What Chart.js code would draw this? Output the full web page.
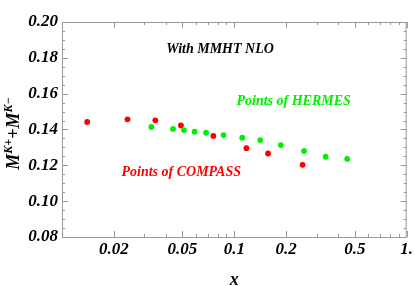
<!DOCTYPE html>
<html>
<head>
<meta charset="utf-8">
<script src="https://cdn.jsdelivr.net/npm/chart.js@4/dist/chart.umd.min.js"></script>
<style>
  body { margin: 0; background: #fff; }
</style>
</head>
<body>
<canvas id="Chart" width="415" height="286"></canvas>
<script>
// values
const compassX = [0.0140, 0.0240, 0.0348, 0.0490, 0.0756, 0.1176, 0.157, 0.249];
const compassY = [0.1442, 0.1457, 0.1451, 0.1423, 0.1364, 0.1296, 0.1266, 0.1203];
const hermesX = [0.0330, 0.0441, 0.0510, 0.0588, 0.0686, 0.0866, 0.1112, 0.1413, 0.1862, 0.2539, 0.339, 0.452];
const hermesY = [0.1414, 0.1403, 0.1397, 0.1388, 0.1382, 0.1369, 0.1354, 0.1341, 0.1313, 0.1280, 0.1248, 0.1236];

const xTicks = [0.02, 0.05, 0.1, 0.2, 0.5, 1];
const xTickLabels = ['0.02', '0.05', '0.1', '0.2', '0.5', '1.'];
const xMinor = [0.03, 0.04, 0.06, 0.07, 0.08, 0.09, 0.3, 0.4, 0.6, 0.7, 0.8, 0.9];
const yTicks = [0.08, 0.10, 0.12, 0.14, 0.16, 0.18, 0.20];
const yTickLabels = ['0.08', '0.10', '0.12', '0.14', '0.16', '0.18', '0.20'];

const tickFont = { family: 'Liberation Serif', size: 17, weight: 'bold', style: 'italic' };

function toPoints(xs, ys){
  const pts = [];
  for(let i = 0; i < xs.length; i++){
    pts.push({x: xs[i], y: ys[i]});
  }
  return pts;
}

// frame, inward ticks, labels inside the plot and the y title
const framePlugin = {
  id: 'frame',
  afterDraw(chart){
    const ctx = chart.ctx;
    const a = chart.chartArea;
    const xs = chart.scales.x;
    const ys = chart.scales.y;
    ctx.save();
    ctx.strokeStyle = '#999';
    ctx.lineWidth = 1;
    ctx.strokeRect(a.left + 0.5, a.top + 0.5, a.right - a.left - 1, a.bottom - a.top);

    ctx.beginPath();
    xTicks.concat(xMinor).forEach(v => {
      const len = xTicks.includes(v) ? 6 : 3;
      const px = Math.round(xs.getPixelForValue(v)) + 0.5;
      ctx.moveTo(px, a.bottom); ctx.lineTo(px, a.bottom - len);
      ctx.moveTo(px, a.top); ctx.lineTo(px, a.top + len);
    });
    for(let v = 0.08; v <= 0.2001; v += 0.005){
      const major = Math.abs(Math.round(v / 0.02) * 0.02 - v) < 1e-6;
      const len = major ? 6 : 3;
      const py = Math.round(ys.getPixelForValue(v)) + 0.5;
      ctx.moveTo(a.left, py); ctx.lineTo(a.left + len, py);
      ctx.moveTo(a.right, py); ctx.lineTo(a.right - len, py);
    }
    ctx.stroke();

    ctx.font = 'italic bold 14px "Liberation Serif"';
    ctx.textAlign = 'center';
    ctx.textBaseline = 'middle';
    ctx.fillStyle = '#000';
    ctx.fillText('With MMHT NLO', xs.getPixelForValue(0.0826), ys.getPixelForValue(0.1847));
    ctx.fillStyle = '#00f000';
    ctx.fillText('Points of HERMES', xs.getPixelForValue(0.221), ys.getPixelForValue(0.1556));
    ctx.fillStyle = '#ff0000';
    ctx.fillText('Points of COMPASS', xs.getPixelForValue(0.0492), ys.getPixelForValue(0.1158));

    // y title: M^{K+}+M^{K-}
    const big = 'italic bold 18px "Liberation Serif"';
    const small = 'italic bold 12px "Liberation Serif"';
    const parts = [
      {t: 'M', f: big, dy: 0},
      {t: 'K+', f: small, dy: -7},
      {t: '+', f: big, dy: 0},
      {t: 'M', f: big, dy: 0},
      {t: 'K\u2212', f: small, dy: -7}
    ];
    let total = 0;
    parts.forEach(p => { ctx.font = p.f; p.w = ctx.measureText(p.t).width; total += p.w; });
    ctx.translate(19, (a.top + a.bottom) / 2 + 4);
    ctx.rotate(-Math.PI / 2);
    ctx.fillStyle = '#000';
    ctx.textAlign = 'left';
    ctx.textBaseline = 'alphabetic';
    let cx = -total / 2;
    parts.forEach(p => {
      ctx.font = p.f;
      ctx.fillText(p.t, cx, p.dy);
      cx += p.w;
    });
    ctx.restore();
  }
};

const ctx = document.getElementById('Chart').getContext('2d');
const myChart = new Chart(ctx, {
  type: 'scatter',
  data: {
    datasets: [{
      label: 'HERMES',
      data: toPoints(hermesX, hermesY),
      backgroundColor: '#00f000',
      borderWidth: 0,
      pointRadius: 2.9
    }, {
      label: 'COMPASS',
      data: toPoints(compassX, compassY),
      backgroundColor: '#ff0000',
      borderWidth: 0,
      pointRadius: 2.9
    }]
  },
  options: {
    responsive: false,
    animation: false,
    layout: { padding: { top: 22, right: 7, left: 0, bottom: 0 } },
    plugins: {
      legend: { display: false },
      tooltip: { enabled: false }
    },
    scales: {
      x: {
        type: 'logarithmic',
        min: 0.01,
        max: 1,
        grid: { display: false, drawTicks: false },
        border: { display: false },
        afterBuildTicks: s => { s.ticks = xTicks.map(v => ({value: v})); },
        afterFit: s => { s.height = 49; },
        ticks: {
          autoSkip: false,
          maxRotation: 0,
          padding: 2,
          color: '#000',
          font: tickFont,
          callback: (v, i) => xTickLabels[i]
        },
        title: {
          display: true,
          text: 'x',
          color: '#000',
          font: { family: 'Liberation Serif', size: 18, weight: 'bold', style: 'italic', lineHeight: 1 },
          padding: { top: 0, bottom: -3 }
        }
      },
      y: {
        min: 0.08,
        max: 0.20,
        grid: { display: false, drawTicks: false },
        border: { display: false },
        afterBuildTicks: s => { s.ticks = yTicks.map(v => ({value: v})); },
        afterFit: s => { s.width = 62; },
        ticks: {
          autoSkip: false,
          padding: 4,
          color: '#000',
          font: tickFont,
          callback: (v, i) => yTickLabels[i]
        }
      }
    }
  },
  plugins: [framePlugin]
});
</script>
</body>
</html>
